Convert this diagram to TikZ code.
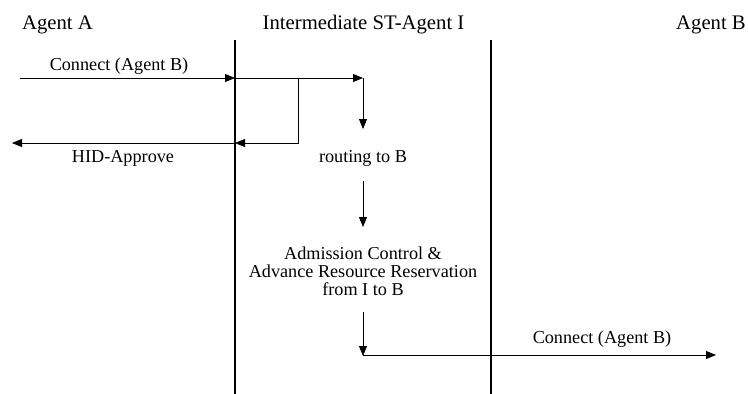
\documentclass[tikz,border=0pt]{standalone}
\usepackage{fontspec}
\setmainfont{Liberation Serif}
\usetikzlibrary{arrows.meta}
\begin{document}
\begin{tikzpicture}[x=1pt,y=-1pt,
  lbl/.style={anchor=base,inner sep=0pt,font=\fontsize{18.2}{17.6}\selectfont,align=center},
  head/.style={lbl,font=\fontsize{20.7}{22}\selectfont},
  life/.style={line width=1.1pt},
  msg/.style={line width=0.8pt,-{Triangle[length=10pt,width=8pt]}},
  wire/.style={line width=0.8pt}]
\useasboundingbox (0,0) rectangle (748,394);
% headers
\node[head] (hA) at (57.5,29) {Agent A};
\node[head] (hI) at (363.5,29) {Intermediate ST-Agent I};
\node[head] (hB) at (711,29) {Agent B};
% lifelines
\coordinate (l1t) at (235,40); \coordinate (l1b) at (235,394);
\coordinate (l2t) at (491,40); \coordinate (l2b) at (491,394);
\draw[life] (l1t) -- (l1b);
\draw[life] (l2t) -- (l2b);
% points
\coordinate (aS) at (20,78);
\coordinate (aL) at (235,78);
\coordinate (iC) at (363,78);
\coordinate (iD) at (363,129);
\coordinate (bR) at (298,78);
\coordinate (bD) at (298,143);
\coordinate (hL) at (235,143);
\coordinate (hE) at (12,143);
\coordinate (r2t) at (363,181);
\coordinate (r2b) at (363,227);
\coordinate (r3t) at (363,312);
\coordinate (r3b) at (363,356);
\coordinate (bS) at (363,355);
\coordinate (bE) at (716,355);
% messages
\draw[msg] (aS) -- (aL);
\node[lbl] (c1) at (119,70) {Connect (Agent B)};
\draw[msg] (aL) -- (iC);
\draw[msg] (iC) -- (iD);
\draw[msg] (bR) -- (bD) -- (hL);
\draw[msg] (hL) -- (hE);
\node[lbl] (hid) at (123,162) {HID-Approve};
\node[lbl] (rt) at (363,162) {routing to B};
\draw[msg] (r2t) -- (r2b);
\node[lbl] (ac) at (363,295) {Admission Control \&\\Advance Resource Reservation\\from I to B};
\draw[msg] (r3t) -- (r3b);
\draw[msg] (bS) -- (bE);
\node[lbl] (c2) at (602,343) {Connect (Agent B)};
\end{tikzpicture}
\end{document}
